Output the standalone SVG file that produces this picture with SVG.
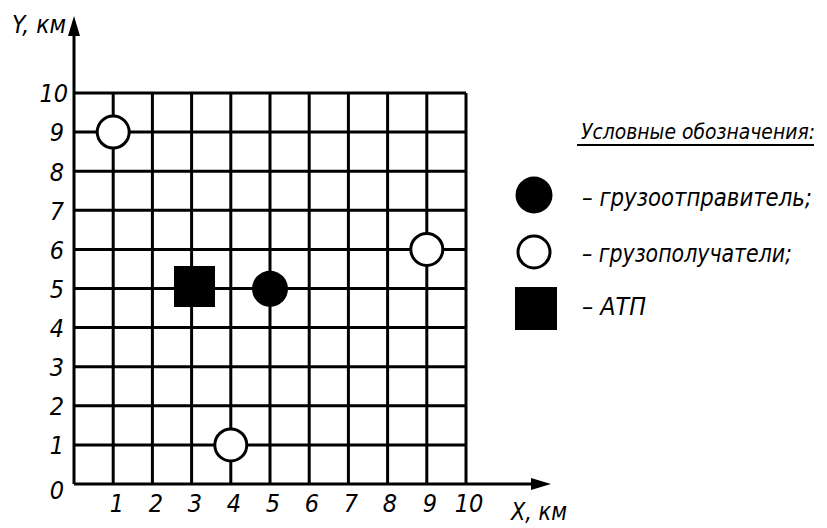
<svg xmlns="http://www.w3.org/2000/svg" width="827" height="528" viewBox="0 0 827 528">
<style>
text{font-family:"DejaVu Sans Condensed","DejaVu Sans",sans-serif;font-stretch:condensed;font-style:italic;fill:#000}
.num{font-size:25px}
.lab{font-size:25px}
.ttl{font-size:22px}
.grid{stroke:#000;stroke-width:3;fill:none}
.open{fill:#fff;stroke:#000;stroke-width:3}
.solid{fill:#000}
</style>
<rect width="827" height="528" fill="#fff"/>
<g id="axes">
<path class="grid" d="M74,484V32M74,484H535"/>
<polygon points="74,16 68,36 80,36" fill="#000"/>
<polygon points="551,484 531,478 531,490" fill="#000"/>
<text class="lab" x="12" y="33" textLength="54" lengthAdjust="spacingAndGlyphs">Y, км</text>
<text class="lab" x="511" y="520" textLength="56" lengthAdjust="spacingAndGlyphs">X, км</text>
</g>
<g id="grid">
<path class="grid" d="M113.2,93V484M152.4,93V484M191.6,93V484M230.8,93V484M270,93V484M309.2,93V484M348.4,93V484M387.6,93V484M426.8,93V484M466,93V484M74,444.9H466M74,405.8H466M74,366.7H466M74,327.6H466M74,288.5H466M74,249.4H466M74,210.3H466M74,171.2H466M74,132.1H466M74,93H466"/>
</g>
<g id="y-labels" text-anchor="end">
<text class="num" x="64" y="499">0</text>
<text class="num" x="64" y="454">1</text>
<text class="num" x="64" y="415">2</text>
<text class="num" x="64" y="376">3</text>
<text class="num" x="64" y="337">4</text>
<text class="num" x="64" y="298">5</text>
<text class="num" x="64" y="259">6</text>
<text class="num" x="64" y="220">7</text>
<text class="num" x="64" y="181">8</text>
<text class="num" x="64" y="141">9</text>
<text class="num" x="68" y="102">10</text>
</g>
<g id="x-labels" text-anchor="middle">
<text class="num" x="117" y="512">1</text>
<text class="num" x="156" y="512">2</text>
<text class="num" x="195" y="512">3</text>
<text class="num" x="234" y="512">4</text>
<text class="num" x="273" y="512">5</text>
<text class="num" x="312" y="512">6</text>
<text class="num" x="351" y="512">7</text>
<text class="num" x="390" y="512">8</text>
<text class="num" x="430" y="512">9</text>
<text class="num" x="469" y="512">10</text>
</g>
<g id="receiver-1-9"><circle class="open" cx="113.2" cy="132.1" r="16"/></g>
<g id="receiver-9-6"><circle class="open" cx="426.8" cy="249.4" r="16"/></g>
<g id="receiver-4-1"><circle class="open" cx="230.8" cy="444.9" r="16"/></g>
<g id="shipper-5-5"><circle class="solid" cx="270" cy="288.8" r="18"/></g>
<g id="atp-3-5"><rect class="solid" x="174" y="266" width="41" height="41"/></g>
<g id="legend">
<text class="ttl" x="581" y="139" textLength="234" lengthAdjust="spacingAndGlyphs">Условные обозначения:</text>
<line x1="577" y1="145" x2="814" y2="145" stroke="#000" stroke-width="2"/>
<circle class="solid" cx="534" cy="195" r="18.5"/>
<text class="lab" x="582" y="206" textLength="230" lengthAdjust="spacingAndGlyphs">– грузоотправитель;</text>
<circle class="open" cx="534" cy="252" r="16"/>
<text class="lab" x="582" y="262" textLength="210" lengthAdjust="spacingAndGlyphs">– грузополучатели;</text>
<rect class="solid" x="515" y="287" width="42" height="43"/>
<text class="lab" x="582" y="315" textLength="64" lengthAdjust="spacingAndGlyphs">– АТП</text>
</g>
</svg>
